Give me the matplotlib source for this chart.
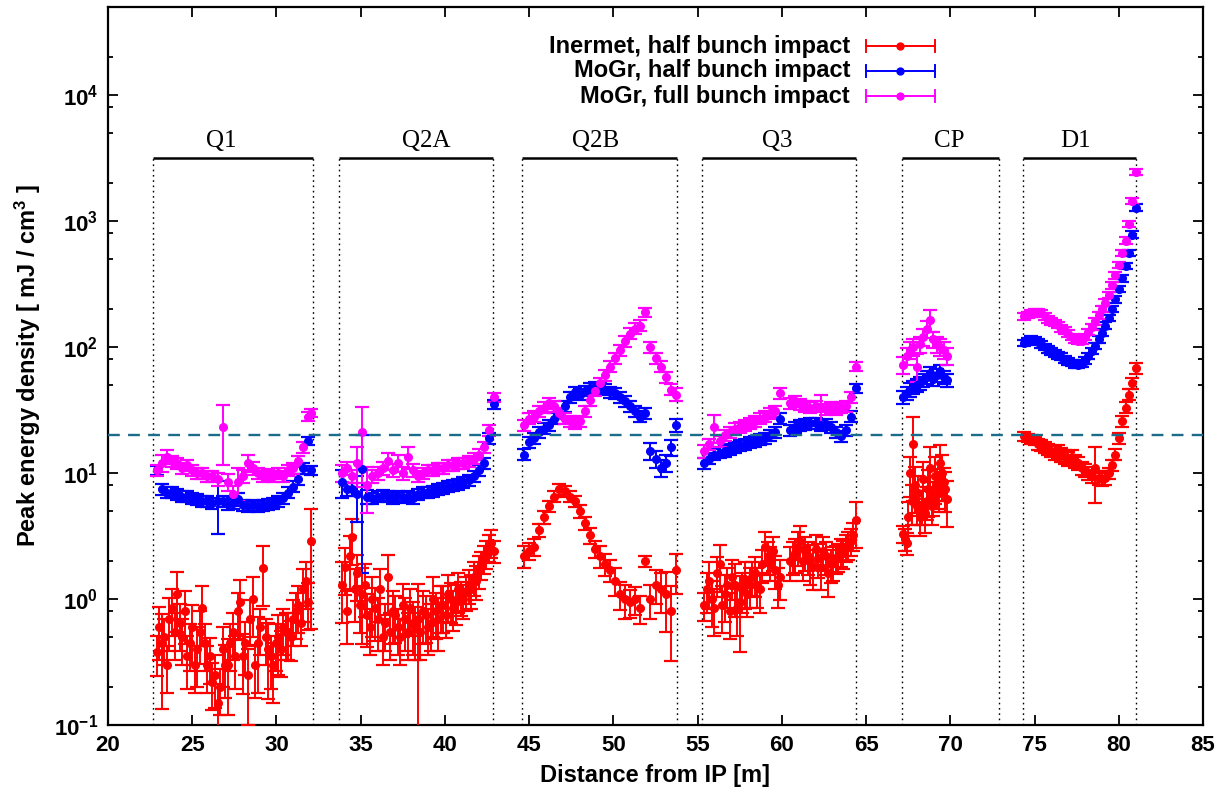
import numpy as np
import matplotlib
matplotlib.use("Agg")
import matplotlib.pyplot as plt
from matplotlib.ticker import MultipleLocator, LogLocator, FuncFormatter, NullFormatter
from matplotlib.lines import Line2D

# magnet sections along the beam line
SECTIONS = ["Q1", "Q2A", "Q2B", "Q3", "CP", "D1"]
SEC_START = [22.67, 33.71, 44.55, 55.27, 67.12, 74.32]
SEC_END = [32.16, 42.88, 53.75, 64.43, 72.90, 81.03]
SEC_LABEL_X = [26.75, 38.9, 48.95, 59.7, 69.95, 77.45]
THRESHOLD = 20.0

# ---- Q1 ----
Q1_X = [22.9, 23.2, 23.5, 23.8, 24.1, 24.4, 24.7, 25.0, 25.3, 25.6, 25.9, 26.2, 26.5, 26.8, 27.1, 27.4,
        27.7, 28.0, 28.3, 28.6, 28.9, 29.2, 29.5, 29.8, 30.1, 30.4, 30.7, 31.0, 31.3, 31.6, 31.9, 32.05]
Q1_RED = [0.38, 0.45, 0.3, 0.85, 1.1, 0.5, 0.35, 0.6, 0.4, 0.85, 0.3, 0.22, 0.15, 0.4, 0.3, 0.55,
          0.8, 0.35, 0.25, 1.0, 0.45, 1.75, 0.4, 0.3, 0.5, 0.6, 0.55, 0.7, 0.9, 1.2, 0.95, 2.9]
Q1_RED_ERR = [35, 70, 40, 40, 50, 40, 45, 50, 50, 50, 40, 40, 40, 50, 60, 40,
              40, 50, 60, 50, 60, 50, 60, 50, 50, 40, 40, 40, 40, 45, 40, 80]
# extra red points lying between the main grid
Q1_X2 = [23.05, 23.35, 23.65, 23.95, 24.25, 24.55, 24.85, 25.15, 25.45, 25.75, 26.05, 26.35, 26.65, 26.95, 27.25,
         27.55, 27.85, 28.15, 28.45, 28.75, 29.05, 29.35, 29.65, 29.95, 30.25, 30.55, 30.85, 31.15, 31.45, 31.75]
Q1_RED2 = [0.6, 0.5, 0.7, 0.55, 0.65, 0.8, 0.45, 0.3, 0.55, 0.45, 0.35, 0.25, 0.2, 0.3, 0.45,
           0.35, 0.95, 0.45, 0.7, 0.3, 0.6, 0.5, 0.35, 0.45, 0.4, 0.55, 0.5, 0.8, 0.65, 1.4]
Q1_RED2_ERR = [45, 40, 45, 40, 40, 45, 40, 40, 45, 40, 40, 45, 40, 45, 40,
               45, 50, 45, 40, 45, 40, 40, 45, 40, 40, 40, 35, 40, 35, 40]
Q1_BLUE = [10.5, 7.5, 7, 7, 6.8, 6.5, 6.5, 6.3, 6.2, 6, 6, 5.8, 6, 6, 5.7, 5.8,
           6.2, 5.6, 5.5, 5.6, 5.5, 5.6, 5.7, 5.8, 6, 6.3, 7, 7.8, 9, 11, 18, 10.5]
Q1_BLUE_ERR = [8, 10, 10, 10, 10, 10, 10, 10, 10, 10, 10, 10, 45, 10, 10, 10,
               12, 10, 10, 10, 10, 10, 10, 10, 10, 10, 10, 10, 10, 10, 8, 8]
Q1_MAG = [10.5, 12, 13.5, 12.5, 12, 11, 11.5, 10.5, 10, 10, 9.5, 9.5, 9, 23, 8.5, 6.8,
          8.5, 9.5, 12, 11, 10, 9.5, 9.8, 9.5, 10, 9.5, 10.5, 11, 12.5, 16, 28, 30]
Q1_MAG_ERR = [10, 15, 12, 10, 10, 10, 10, 10, 10, 10, 10, 10, 12, 50, 15, 15,
              30, 12, 15, 12, 10, 10, 10, 10, 10, 10, 10, 10, 10, 10, 8, 8]

# ---- Q2A ----
Q2A_X = [33.9, 34.2, 34.5, 34.8, 35.1, 35.4, 35.7, 36.0, 36.3, 36.6, 36.9, 37.2, 37.5, 37.8, 38.1, 38.4,
         38.7, 39.0, 39.3, 39.6, 39.9, 40.2, 40.5, 40.8, 41.1, 41.4, 41.7, 42.0, 42.3, 42.6, 42.9]
Q2A_RED = [1.3, 0.8, 3.1, 1.6, 1.1, 0.75, 1.0, 0.7, 0.5, 1.5, 0.8, 0.6, 0.9, 0.55, 0.65, 0.7,
           0.8, 0.6, 1.0, 0.7, 0.9, 1.1, 0.85, 1.2, 1.0, 1.3, 1.5, 1.7, 2.1, 2.6, 2.4]
Q2A_RED_ERR = [50, 45, 40, 40, 60, 45, 50, 45, 40, 50, 45, 40, 45, 40, 45, 88,
               45, 40, 50, 45, 40, 40, 35, 35, 30, 30, 30, 30, 25, 25, 20]
Q2A_X2 = [34.05, 34.35, 34.65, 34.95, 35.25, 35.55, 35.85, 36.15, 36.45, 36.75, 37.05, 37.35, 37.65, 37.95, 38.25,
          38.55, 38.85, 39.15, 39.45, 39.75, 40.05, 40.35, 40.65, 40.95, 41.25, 41.55, 41.85, 42.15, 42.45, 42.75]
Q2A_RED2 = [1.8, 2.2, 1.2, 0.9, 1.3, 0.6, 0.85, 1.2, 0.65, 0.55, 0.75, 0.5, 0.7, 0.85, 0.6,
            0.55, 0.75, 0.65, 0.8, 0.9, 0.75, 1.0, 0.95, 1.05, 1.15, 1.2, 1.4, 1.9, 2.3, 2.8]
Q2A_RED2_ERR = [40, 45, 45, 40, 45, 40, 45, 45, 40, 40, 40, 40, 45, 40, 45,
                40, 40, 40, 40, 40, 35, 35, 35, 30, 30, 30, 30, 25, 25, 25]
Q2A_BLUE = [8.5, 7.5, 7.5, 6.8, 10.8, 6.5, 6.3, 6.5, 6.7, 6.6, 6.3, 6.6, 6.4, 6.5, 6.3, 6.8,
            7, 7.1, 7.2, 7.4, 7.6, 7.8, 8.0, 8.2, 8.5, 8.8, 9.5, 10.5, 12, 19, 35]
Q2A_BLUE_ERR = [25, 12, 12, 40, 85, 12, 10, 10, 10, 10, 10, 10, 10, 10, 10, 10,
                10, 10, 10, 10, 10, 10, 10, 10, 10, 10, 10, 10, 10, 10, 8]
Q2A_MAG = [10, 11, 9.5, 12, 21, 8, 9.5, 10, 11, 12.5, 10.5, 12, 10, 13.5, 10.5, 9.5,
           10, 10.5, 10.5, 11, 11, 11.5, 11.5, 12, 12, 12.5, 13, 14, 16, 22, 40]
Q2A_MAG_ERR = [15, 12, 12, 35, 60, 40, 12, 12, 12, 15, 12, 15, 12, 20, 12, 10,
               10, 10, 10, 10, 10, 10, 10, 10, 10, 10, 10, 10, 10, 10, 8]

# ---- Q2B ----
Q2B_X = [44.7, 45.0, 45.3, 45.6, 45.9, 46.2, 46.5, 46.8, 47.1, 47.4, 47.7, 48.0, 48.3, 48.6, 48.9, 49.2,
         49.5, 49.8, 50.1, 50.4, 50.7, 51.0, 51.3, 51.6, 51.9, 52.2, 52.5, 52.8, 53.1, 53.4, 53.7]
Q2B_RED = [2.2, 2.4, 2.6, 3.5, 4.5, 5.5, 6.5, 7.5, 7.2, 6.5, 6.0, 5.0, 4.0, 3.2, 2.5, 2.2,
           1.9, 1.7, 1.4, 1.1, 1.0, 0.95, 1.0, 0.85, 2.0, 1.0, 1.3, 1.2, 1.1, 0.8, 1.7]
Q2B_RED_ERR = [20, 15, 15, 12, 12, 10, 10, 10, 10, 10, 10, 12, 12, 15, 15, 20,
               20, 20, 25, 25, 30, 25, 25, 25, 10, 30, 30, 35, 50, 60, 35]
Q2B_BLUE = [14, 17.5, 19, 21, 22.5, 24, 27, 30, 34, 40, 44, 42, 45, 47, 48, 47,
            46, 44, 43, 40, 37, 34, 31, 28, 30, 15, 13, 11, 12, 16, 24]
Q2B_BLUE_ERR = [10, 10, 10, 10, 10, 10, 10, 10, 10, 10, 10, 10, 10, 10, 10, 10,
                10, 10, 10, 10, 10, 10, 10, 10, 10, 15, 15, 15, 15, 15, 12]
Q2B_MAG = [24, 27, 28, 31, 33, 36, 34, 30, 27, 26, 25, 26, 31, 38, 45, 52,
           60, 70, 82, 95, 112, 128, 140, 148, 188, 100, 82, 70, 58, 46, 42]
Q2B_MAG_ERR = [10, 10, 10, 10, 10, 10, 10, 10, 10, 10, 10, 10, 10, 10, 10, 10,
               10, 10, 10, 10, 10, 10, 10, 10, 8, 10, 10, 10, 10, 10, 12]

# ---- Q3 ----
Q3_X = [55.4, 55.7, 56.0, 56.3, 56.6, 56.9, 57.2, 57.5, 57.8, 58.1, 58.4, 58.7, 59.0, 59.3, 59.6, 59.9,
        60.5, 60.8, 61.1, 61.4, 61.7, 62.0, 62.3, 62.6, 62.9, 63.2, 63.5, 63.8, 64.1, 64.4]
Q3_RED = [0.9, 1.4, 0.85, 1.9, 1.1, 0.8, 1.3, 0.95, 1.4, 1.3, 1.6, 1.2, 2.6, 2.0, 1.7, 1.5,
          2.0, 2.3, 2.9, 2.4, 2.0, 2.5, 1.8, 2.2, 1.9, 2.1, 2.4, 2.6, 2.9, 4.2]
Q3_RED_ERR = [25, 40, 40, 40, 40, 40, 45, 60, 40, 35, 35, 35, 30, 30, 30, 35,
              30, 30, 30, 30, 35, 30, 35, 30, 30, 25, 25, 25, 25, 40]
Q3_X2 = [55.55, 55.85, 56.15, 56.45, 56.75, 57.05, 57.35, 57.65, 57.95, 58.25, 58.55, 58.85, 59.15, 59.45,
         59.75, 60.65, 60.95, 61.25, 61.55, 61.85, 62.15, 62.45, 62.75, 63.05, 63.35, 63.65, 63.95, 64.25]
Q3_RED2 = [1.2, 1.0, 1.6, 0.9, 1.3, 1.5, 0.85, 1.2, 1.1, 1.5, 1.3, 1.9, 2.2, 2.4,
           1.3, 2.2, 2.6, 2.0, 2.2, 1.8, 2.1, 2.4, 1.6, 2.0, 2.2, 2.3, 2.7, 3.2]
Q3_RED2_ERR = [35, 40, 35, 40, 35, 35, 40, 35, 35, 30, 35, 30, 30, 30,
               35, 30, 30, 30, 30, 35, 30, 30, 35, 30, 25, 25, 25, 25]
Q3_BLUE = [12, 13, 14, 14.5, 15, 15.5, 16, 16.5, 17, 17.5, 18, 18.5, 19, 20, 21, 27,
           22, 23, 24, 24.5, 25, 25, 24, 24.5, 23, 21, 19.5, 22, 28, 47]
Q3_BLUE_ERR = [10, 10, 10, 10, 10, 10, 10, 10, 10, 10, 10, 10, 10, 10, 10, 10,
               10, 10, 10, 10, 10, 10, 10, 10, 10, 10, 10, 10, 10, 8]
Q3_MAG = [15, 17, 23, 18, 20, 21, 22.5, 23, 24, 25, 26, 27, 28, 30, 31, 43,
          36, 37, 35, 34, 33, 34, 33, 32, 33, 32, 33, 34, 40, 70]
Q3_MAG_ERR = [12, 10, 25, 10, 10, 10, 10, 10, 10, 10, 10, 10, 10, 10, 10, 10,
              10, 10, 10, 10, 10, 10, 25, 10, 10, 10, 10, 10, 10, 8]

# ---- CP ----
CP_X = [67.2, 67.4, 67.6, 67.8, 68.0, 68.2, 68.4, 68.6, 68.8, 69.0, 69.2, 69.4, 69.6, 69.8]
CP_RED = [3.3, 2.8, 10, 17, 5.5, 4.5, 9.0, 6.0, 11, 6.5, 8.0, 12, 8.5, 6.2]
CP_RED_ERR = [15, 20, 35, 65, 30, 30, 35, 30, 45, 30, 35, 40, 30, 40]
CP_X2 = [67.3, 67.5, 67.7, 67.9, 68.1, 68.3, 68.5, 68.7, 68.9, 69.1, 69.3, 69.5, 69.7]
CP_RED2 = [3.0, 4.5, 6.0, 8.0, 7.0, 5.5, 4.8, 7.5, 5.5, 9.5, 7.0, 10, 7.5]
CP_RED2_ERR = [20, 30, 35, 40, 35, 30, 30, 40, 30, 40, 30, 40, 35]
CP_BLUE = [40, 43, 46, 48, 50, 52, 55, 58, 62, 56, 60, 64, 58, 55]
CP_BLUE_ERR = [12, 12, 12, 12, 12, 12, 12, 12, 12, 12, 12, 12, 12, 12]
CP_MAG = [72, 85, 95, 100, 70, 105, 120, 140, 165, 115, 105, 100, 95, 85]
CP_MAG_ERR = [15, 15, 15, 15, 25, 15, 15, 15, 20, 15, 15, 15, 15, 15]

# ---- D1 ----
D1_X = [74.4, 74.6, 74.8, 75.0, 75.2, 75.4, 75.6, 75.8, 76.0, 76.2, 76.4, 76.6, 76.8, 77.0, 77.2, 77.4, 77.6,
        77.8, 78.0, 78.2, 78.4, 78.6, 78.8, 79.0, 79.2, 79.4, 79.6, 79.8, 80.0, 80.2, 80.4, 80.6, 80.8, 81.0]
D1_RED = [19.5, 19, 18.5, 18, 17, 16.5, 16, 15.5, 15, 14.5, 15, 14, 13.5, 13, 13.5, 12.5, 12,
          11, 10.5, 10, 9.5, 11, 9.2, 9.0, 9.2, 10, 11.5, 14, 19, 26, 33, 42, 52, 68]
D1_RED_ERR = [8, 8, 8, 8, 10, 10, 10, 10, 10, 12, 12, 12, 12, 12, 12, 12, 12,
              12, 12, 12, 12, 47, 12, 12, 12, 10, 10, 10, 10, 10, 10, 10, 10, 10]
D1_BLUE = [108, 112, 115, 113, 110, 105, 100, 96, 92, 89, 86, 84, 80, 77, 75, 73, 72,
           74, 78, 85, 93, 102, 115, 130, 148, 170, 200, 240, 290, 350, 440, 560, 780, 1280]
D1_BLUE_ERR = [6, 6, 6, 6, 6, 6, 6, 6, 6, 6, 6, 6, 6, 6, 6, 6, 6,
               6, 6, 6, 6, 6, 6, 6, 6, 6, 6, 6, 6, 6, 6, 6, 6, 6]
D1_MAG = [175, 180, 185, 188, 190, 185, 175, 165, 160, 155, 150, 140, 135, 128, 120, 115, 112,
          112, 120, 132, 145, 160, 178, 200, 225, 260, 310, 370, 450, 560, 700, 950, 1450, 2450]
D1_MAG_ERR = [6, 6, 6, 6, 6, 6, 6, 6, 6, 6, 6, 6, 6, 6, 6, 6, 6,
              6, 6, 6, 6, 6, 6, 6, 6, 6, 6, 6, 6, 6, 6, 6, 6, 6]

SERIES = [
    ("Inermet, half bunch impact", "#ff0000",
     [(Q1_X, Q1_RED, Q1_RED_ERR), (Q1_X2, Q1_RED2, Q1_RED2_ERR),
      (Q2A_X, Q2A_RED, Q2A_RED_ERR), (Q2A_X2, Q2A_RED2, Q2A_RED2_ERR),
      (Q2B_X, Q2B_RED, Q2B_RED_ERR),
      (Q3_X, Q3_RED, Q3_RED_ERR), (Q3_X2, Q3_RED2, Q3_RED2_ERR),
      (CP_X, CP_RED, CP_RED_ERR), (CP_X2, CP_RED2, CP_RED2_ERR),
      (D1_X, D1_RED, D1_RED_ERR)]),
    ("MoGr, half bunch impact", "#0000ff",
     [(Q1_X, Q1_BLUE, Q1_BLUE_ERR), (Q2A_X, Q2A_BLUE, Q2A_BLUE_ERR), (Q2B_X, Q2B_BLUE, Q2B_BLUE_ERR),
      (Q3_X, Q3_BLUE, Q3_BLUE_ERR), (CP_X, CP_BLUE, CP_BLUE_ERR), (D1_X, D1_BLUE, D1_BLUE_ERR)]),
    ("MoGr, full bunch impact", "#ff00ff",
     [(Q1_X, Q1_MAG, Q1_MAG_ERR), (Q2A_X, Q2A_MAG, Q2A_MAG_ERR), (Q2B_X, Q2B_MAG, Q2B_MAG_ERR),
      (Q3_X, Q3_MAG, Q3_MAG_ERR), (CP_X, CP_MAG, CP_MAG_ERR), (D1_X, D1_MAG, D1_MAG_ERR)]),
]

plt.rcParams["font.family"] = ["Liberation Sans", "DejaVu Sans"]
plt.rcParams["mathtext.fontset"] = "custom"
plt.rcParams["mathtext.rm"] = "Liberation Sans:bold"
plt.rcParams["mathtext.bf"] = "Liberation Sans:bold"
plt.rcParams["mathtext.it"] = "Liberation Sans:bold"

fig = plt.figure(figsize=(12.2, 8), dpi=100)
ax = fig.add_axes([108 / 1220, 75 / 800, 1095 / 1220, 718 / 800])

for label, color, parts in SERIES:
    x = np.concatenate([np.array(p[0], float) for p in parts])
    y = np.concatenate([np.array(p[1], float) for p in parts])
    e = np.concatenate([np.array(p[2], float) for p in parts]) / 100.0 * y
    ax.errorbar(x, y, yerr=e, fmt="o", color=color, mec=color, ms=5.5,
                elinewidth=1.4, capsize=4.8, capthick=1.6, zorder=3)

ax.set_yscale("log")
ax.set_xlim(20, 85)
ax.set_ylim(0.1, 5e4)

# section markers
BAR_Y = 3180
ax.vlines(SEC_START + SEC_END, 0.1, BAR_Y, colors="black",
          linestyles=(0, (1.2, 2.6)), lw=1.0, zorder=1)
ax.hlines([BAR_Y] * len(SECTIONS), SEC_START, SEC_END, colors="black", lw=1.8, zorder=2)
for name, xl in zip(SECTIONS, SEC_LABEL_X):
    ax.text(xl, 3900, name, ha="center", va="baseline",
            family="Liberation Serif", fontsize=18)

ax.axhline(THRESHOLD, color="#1b6b8a", lw=1.7, ls=(0, (5, 3.5)), zorder=4)

# axes styling (gnuplot look)
ax.xaxis.set_major_locator(MultipleLocator(5))
ax.yaxis.set_major_locator(LogLocator(base=10, numticks=20))
ax.yaxis.set_minor_locator(LogLocator(base=10, subs=[2, 5, 8], numticks=20))
ax.yaxis.set_minor_formatter(NullFormatter())
ax.yaxis.set_major_formatter(FuncFormatter(lambda v, p: r"$\mathbf{10^{%d}}$" % round(np.log10(v))))
ax.tick_params(which="both", direction="in", top=True, right=True, width=1.3)
ax.tick_params(which="major", length=7, labelsize=16, pad=7)
ax.tick_params(which="minor", length=3.5)
for lab in ax.get_xticklabels():
    lab.set_fontweight("bold")
for sp in ax.spines.values():
    sp.set_linewidth(1.6)

ax.set_xlabel("Distance from IP [m]", fontsize=17, fontweight="bold", labelpad=6)
ax.set_ylabel(r"Peak energy density [ mJ / cm$^{3}$ ]", fontsize=17, fontweight="bold", labelpad=8)

# legend drawn as in gnuplot: text right-aligned, sample on the right
for i, (label, color, _) in enumerate(SERIES):
    yf = 1 - (46 + 25 * i) / 800
    fig.text(850 / 1220, yf, label, ha="right", va="center", fontsize=17, fontweight="bold")
    x0, x1 = 866 / 1220, 935 / 1220
    fig.add_artist(Line2D([x0, x1], [yf, yf], color=color, lw=1.4, transform=fig.transFigure))
    for xc in (x0, x1):
        fig.add_artist(Line2D([xc, xc], [yf - 6 / 800, yf + 6 / 800], color=color, lw=1.4,
                              transform=fig.transFigure))
    fig.add_artist(Line2D([900 / 1220], [yf], marker="o", ms=6, mew=0, color=color,
                          transform=fig.transFigure))

fig.savefig("out.png", dpi=100)
